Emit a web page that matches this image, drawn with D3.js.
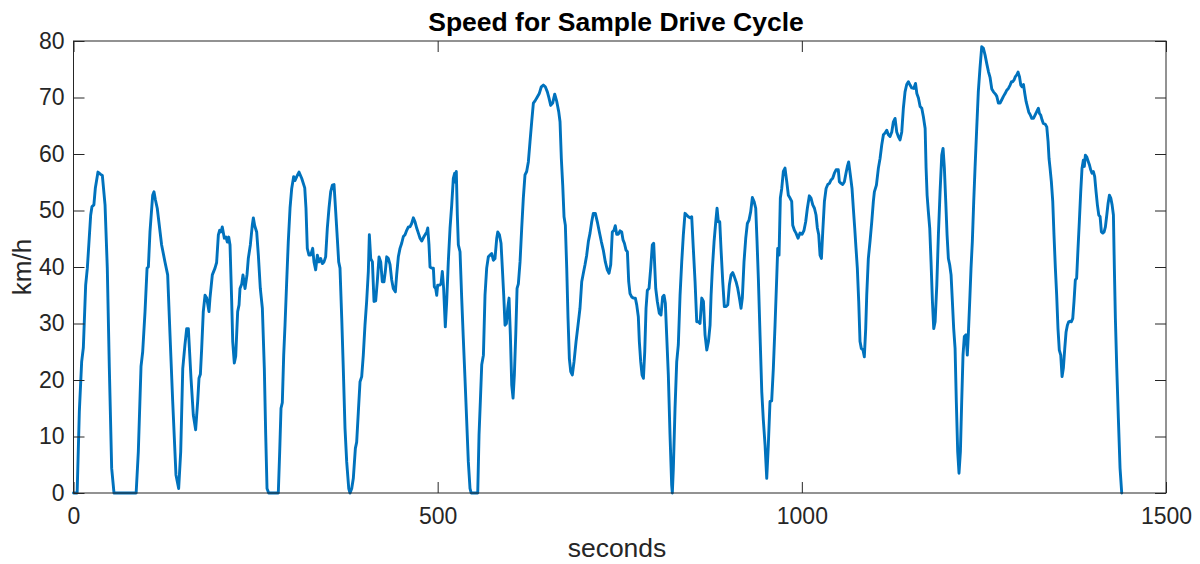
<!DOCTYPE html>
<html>
<head>
<meta charset="utf-8">
<script src="https://cdn.jsdelivr.net/npm/d3@7"></script>
<style>
  html, body { margin: 0; padding: 0; background: #fff; }
  svg { display: block; font-family: "Liberation Sans", Arial, Helvetica, sans-serif; }
</style>
</head>
<body>
<svg id="chart" width="1200" height="564"></svg>
<script>
const titleText = "Speed for Sample Drive Cycle";
const xLabelText = "seconds";
const yLabelText = "km/h";
const xTicks = [0, 500, 1000, 1500];
const yTicks = [0, 10, 20, 30, 40, 50, 60, 70, 80];

const seconds = [
0,5,8,11.2,13.5,16.7,19,23.6,25.4,28,30,33.6,37.3,39.6,43.3,46.4,49.2,52.4,55.6,86,89,92.7,95,98.2,101,102.8,105,108.7,110.5,112.3,115,121,125.6,129.3,132.5,136.2,140.7,144.4,147.2,150,153,
155.4,157.7,161.3,164.5,167.7,170.5,172.3,174.2,176,178.2,180.6,182.9,186,187.4,190.6,194.3,196.5,198.9,200.7,202.5,204.3,207.1,209.4,211.2,213.1,214.9,217.2,218.6,220.8,222.7,225.4,227.3,228.6,231,232.7,235.5,238.2,240,242.8,245.5,246.9,248.8,251.5,253.8,256.5,259.3,262,263.9,265.7,268,281.2,283.1,284.9,286.7,288.6,290.4,292.7,294.9,297.3,299.6,302.3,304.2,306.5,309.6,
313.3,317.5,319.2,321,323.3,325.6,328.4,330.2,332.5,334.8,337.1,339.4,341.6,343.9,346.2,348.5,350.8,353.1,355.4,357.7,360,362.2,364.1,365.9,368.3,370.4,372.8,375.1,377.9,379.7,382,384.2,387,388.8,391.1,393.4,395.7,397.9,400.2,402.5,404.8,406.2,408.1,410.4,412.6,414.9,417.1,419.5,421.8,424,426.3,428.1,430,432.3,434.6,436.9,439.1,441.9,443.7,446,448.3,450.6,452.9,455.2,457.5,459.8,462,464.3,466.6,468.9,471.2,473.5,475.8,478.1,481.3,
485,486.4,488.1,489.5,491.8,494.1,495.4,497.3,498.7,500,502.8,504.6,506.4,508.2,510.5,512.4,514.6,517,519.3,521.5,523.4,524.3,525.6,527,528.4,530.7,533,535.2,537.5,539.9,542.1,544.4,546,555,556.8,558.6,560.5,562.8,565,567.3,569.6,571.9,574.2,576.5,578.7,581.1,582.5,584.8,587,588.8,590.7,592.5,594.4,596.2,598,599.8,601.7,603.5,605.3,607.2,609,610.8,613.1,615.4,617.6,619.9,622.2,624.5,626.8,629.1,631.4,633.7,636.8,639.5,642.3,645.1,647.8,650.6,652.9,655.2,657.9,660.7,663.5,666.2,668,669.8,671.7,673.5,675.3,677.2,679,680.8,682.7,684.9,687.2,690,692.7,695.4,697.8,700,702.3,704.6,706.9,709.2,711.5,713.7,716.5,719.2,722,724.7,727.4,730.2,732.9,735.3,737.6,739.8,742.1,743.9,745.8,748.1,750.4,752.7,754.5,756.4,758.6,760.5,762.3,764.1,766.4,768.7,771.4,773.3,775.5,776.9,778.8,780.6,782.5,784.3,786.1,787.9,790.2,792.5,794.7,796.6,
799.4,801.6,804.3,806.6,808.9,810.8,812.6,814.4,816.7,819,821.3,822.2,823.6,825.9,828.2,830.4,832.8,835.1,837.3,839.6,841.9,844.2,846.5,848.8,851,853.4,855.7,858,860.2,862.6,864.9,867.1,869.5,871.8,874,875.4,877.2,879.5,881.8,883.6,885.4,887.3,889,891.4,893.6,896,898.3,900.5,902.8,905.1,907.3,909.7,912,914.3,916.5,918.3,920.6,923,925.2,927.5,929.8,932.1,934.4,936.7,938.5,940.3,942.6,945,947.1,949.5,951.8,954,956.3,958.6,960.9,963.2,965.5,966.9,968.7,970.5,972.4,974.6,976.9,979.3,981.5,983.8,986.1,987.5,989.8,992,994.8,997.5,1000.3,1003,1005.3,1007.6,1010.3,1012.6,1015,1017.3,1019.5,1021.3,1023.2,1025,1026.9,1028.7,1031,1033.3,1035.6,1037.9,1040.1,1042.4,1044.7,1047,1050.1,1051.5,1053.8,1056.1,1058.4,1060.6,1062.5,1064.3,1066.6,1068.9,1070.7,1072.6,1074.4,1076.2,1078.1,1079.9,1081.7,1084,1085.8,1087.7,1089.1,1091.3,1093.6,1096,1098.2,1099.6,1102.4,1105.1,1107.4,1109.7,1112,1114.3,1116.6,1118.8,1121.1,1123.5,1125.7,1128,1130.3,1132.5,1134.8,1137.2,1139.4,1141.7,1144,1146.3,1148.6,1150.9,1153.7,1156.1,1157.9,1160.1,1162.4,1164.7,1166.9,1169.3,1170.6,1172,1173.7,1175.6,1177.4,1179.3,1181.1,1183,1185.3,1187.5,1189.8,1192.1,1193.9,1195.7,1197.6,1199.4,1201.2,1203,1204.9,1206.7,1208.5,1210.4,1212.1,1214,1215.8,1217.7,1219.5,1221.3,1223.1,1225.4,1227.2,1228.6,1230.5,1232.3,1234.1,1236,1237.8,1240.1,1242.3,1244.6,1247,1249.3,1251.6,1253.9,1256.2,1258.5,1260.8,1263.1,1265.8,1267.7,1269.9,1272.2,1274.5,1276.8,1279.1,1281.4,1283.6,1286,1287.8,1289.6,1291.4,1293.2,1295.1,1296.9,1298.8,1300.6,1302.4,1304.3,1306.1,1307.9,1309.7,1311.6,1313.4,1315.7,1318,1320.2,1322.5,1324.8,1326.2,1328,1329.9,1331.6,1334,1336.3,1338.1,1339.4,1340.8,1342.6,1344.5,1346.2,1348.1,1349.9,1351.7,1353.5,1355.5,1357.3,1359.1,1361,1362.8,1364.6,1366.4,1368.2,1370.1,1372,1373.7,1375.5,1377.3,1379.2,1381,1382.9,1384.7,1386.5,1387.9,1389.3,1391.1,1392.9,1394.8,1396.6,1398.4,1400.3,1402.1,1404,1405.8,1407.7,1409.5,1411.3,1413.2,1415,1416.8,1418.7,1420.5,1422.3,1424.2,1426,1427.8,1429.1,1430.5,1432.4,1434.6,1436.9,1439.2
];

const kmh = [
0,0,14.4,23.2,25.7,36.8,39.8,49.2,50.7,51,54,56.8,56.4,56.2,51,39.8,22.1,4.4,0,0,7.3,22.4,25,32.1,39.8,40,46.2,52.7,53.3,52,50.4,43.9,40.9,38.6,28,16.2,3.2,0.8,7.3,22,26.2,
29.1,29.1,20.4,13.8,11.2,16.2,20.3,21,25.6,32.1,35,34.5,32.1,34.5,38.6,39.8,40.8,45.7,46.5,46.2,47.1,45.1,45.3,44.4,45.3,43.9,33.9,26.8,23,24.2,32.1,33.3,36.2,37,38.6,36.2,38.6,41.5,43.9,47.4,48.7,47.3,46.2,42.1,36.2,32.7,22.1,10.3,0.8,0,0,7.3,15,16,24.4,29.7,37.4,44.5,50.4,53.9,56,55.3,56,56.8,
55.7,54,50.4,43.3,42.1,42.1,43.3,40.9,39.5,42.1,40.9,41.5,40.6,40.9,41.8,46.9,50.4,53.3,54.5,54.6,49.8,45.1,40.9,39.8,30.9,22.1,11.4,5.5,0.8,0,0.8,2.6,7.9,9,14.4,19.7,20.6,24.4,29.7,33.9,39.2,45.7,41.5,40.9,33.9,34,37.4,41.8,40.9,37.4,37.4,39.2,41.8,41.5,40.4,37.7,36.2,35.6,38.6,41.8,43.3,44.2,45.4,45.7,46.5,47.1,47.1,47.7,48.7,48,46.9,46,45.1,44.6,45.4,
46.2,46.9,43.9,40,39.8,39.8,36.5,36.2,35,36.8,36.8,37,39.2,36.2,29.4,33.9,40.9,46.9,51,55.7,56.6,55,56.9,49.2,43.9,42.7,34.5,27.4,20.3,12.6,5.5,0.8,0,0,10.3,16.2,22.7,24.4,35,39.8,41.8,42.1,42.4,41.2,41.5,45.1,46.2,45.7,44.2,39.8,35,29.7,30,32.7,34.5,28,19.1,16.8,20.9,28,36.2,37,40.9,46.9,52.2,56.3,56.9,58.6,62.2,65.7,69,69.4,70.1,70.7,71.9,72.2,71.9,71,69.9,68.6,69,70.6,69.3,67.5,65.7,59.2,54.5,48.9,47.4,39.8,30.9,23.8,21.5,20.9,23.2,26.8,29.7,32.7,37.4,38.9,40.4,42.1,44.5,46,48,49.5,49.5,48,46.2,44.5,43,40.9,39.5,38.9,40.4,46.2,46.5,47.3,45.8,45.8,46.4,46.2,44.8,44.2,43,42.7,37.4,35.3,34.7,34.5,34.5,33.3,31.2,26.8,23.2,20.9,20.3,25,32.7,35.9,36.2,39.8,43.9,44.2,
36.2,33.9,31.8,31.5,34.7,35,33.6,28,20.9,10.3,1.4,0,4.4,15,23.2,26.2,35,40.9,45.7,49.5,49.2,48.9,48.7,48.9,43.3,37.4,30.3,30.3,30,34.5,33.9,28,25.3,26.8,29.7,35,39.8,44.5,48,50.4,48,48,43.3,37.4,33,33,33.3,36.8,38.6,39,38.3,37.4,36.2,34.5,32.7,34.5,40.9,45.1,47.7,48.3,49.8,52.3,51.6,50.4,44.5,38,28,17.9,13,8.5,2.6,8.5,16.2,16.3,22.1,29.7,38,43.3,42.1,52.2,53.9,56.9,57.5,55.1,52.7,52.2,51.6,47.4,46.5,46,45.1,46,45.8,46.5,48,50.4,52.6,52.2,51,50.4,49.2,46.9,45.7,42.1,41.5,46.2,51.6,53.9,54.6,54.8,55.4,55.7,56.6,57.2,57.2,55.1,54.8,54.6,55.1,56.6,57.8,58.6,56.3,53.9,50.4,46.9,43.3,39.8,33.9,26.8,25.6,25.3,24.1,29.1,35,41.5,44.5,48,51.6,53.3,54.5,57.5,59.2,61.6,63.4,63.7,64.2,63.4,63.1,63.9,65.7,66.3,63.9,63.1,62.5,63.9,68.1,71,72.3,72.8,72.2,71.7,71.6,72.5,70.7,69.9,68.4,68.1,66.6,64.5,57.5,52.7,49.8,46.9,40.9,33.9,29.1,30.3,36.8,45.7,53.3,59.8,61,57.5,51.6,45.7,41.5,40.4,38.6,33.9,29.1,25.6,16.2,7.3,3.5,7.3,16.2,24.4,27.7,28,24.4,28,33.9,39.8,44.5,51.6,57.5,64.5,71,75.2,79,78.7,77.5,76,74.6,73.5,71.5,71,70.6,70.2,69,69,69.6,70.2,70.7,71.3,71.6,72.2,72.8,72.8,73.1,73.7,74,74.5,73.7,72.2,71.9,72.3,70.7,69.3,68.4,67.4,67,66.3,66.3,66.9,67.5,68.1,67.2,66.9,66,65.4,65.3,64.8,62.2,59.2,57.5,55.1,51.6,45.7,39.8,35,29.1,25.3,24.4,20.6,22.1,25.6,28.5,29.7,30.3,30.4,30.3,30.9,33.9,37.7,38,43.3,48,53.3,57.5,58.9,57.8,59.8,59.5,58.8,58.1,57.2,56.6,56.9,56,53.3,51,49.2,48.9,46.2,46,46.2,47.1,49.2,51.3,52.7,52.2,51,49.2,39.8,30.9,22.1,13.2,4.4,0
];

const data = seconds.map((t, i) => ({ t, v: kmh[i] }));

const svg = d3.select("#chart");
const mLeft = 73.5, mRight = 1166, mTop = 41, mBottom = 493;
const axisColor = "#262626";
const tickFont = 23;

const x = d3.scaleLinear().domain([0, 1500]).range([mLeft, mRight]);
const y = d3.scaleLinear().domain([0, 80]).range([mBottom, mTop]);

// line
svg.append("path")
  .datum(data)
  .attr("fill", "none")
  .attr("stroke", "#0072BD")
  .attr("stroke-width", 2.9)
  .attr("stroke-linejoin", "round")
  .attr("stroke-linecap", "round")
  .attr("d", d3.line().x(d => x(d.t)).y(d => y(d.v)));

function styleAxis(g, showText) {
  g.select(".domain").remove();
  g.selectAll(".tick line").attr("stroke", axisColor).attr("stroke-width", 1);
  g.selectAll(".tick text")
    .attr("fill", axisColor)
    .style("font-size", tickFont + "px")
    .style("font-family", "'Liberation Sans', Arial, Helvetica, sans-serif")
    .style("display", showText ? null : "none");
}

svg.append("g")
  .attr("transform", `translate(0,${mBottom})`)
  .call(d3.axisBottom(x).tickValues(xTicks).tickSizeInner(-11).tickSizeOuter(0).tickPadding(15).tickFormat(d3.format("d")))
  .call(g => styleAxis(g, true));

svg.append("g")
  .attr("transform", `translate(0,${mTop})`)
  .call(d3.axisTop(x).tickValues(xTicks).tickSizeInner(-11).tickSizeOuter(0))
  .call(g => styleAxis(g, false));

svg.append("g")
  .attr("transform", `translate(${mLeft},0)`)
  .call(d3.axisLeft(y).tickValues(yTicks).tickSizeInner(-11).tickSizeOuter(0).tickPadding(9).tickFormat(d3.format("d")))
  .call(g => styleAxis(g, true));

svg.append("g")
  .attr("transform", `translate(${mRight},0)`)
  .call(d3.axisRight(y).tickValues(yTicks).tickSizeInner(-11).tickSizeOuter(0))
  .call(g => styleAxis(g, false));

// box
svg.append("rect")
  .attr("x", mLeft).attr("y", mTop)
  .attr("width", mRight - mLeft).attr("height", mBottom - mTop)
  .attr("fill", "none").attr("stroke", axisColor).attr("stroke-width", 1);

// title
svg.append("text")
  .attr("x", 616).attr("y", 31)
  .attr("text-anchor", "middle")
  .attr("fill", "#000")
  .style("font-size", "26.5px").style("font-weight", "bold")
  .text(titleText);

// x label
svg.append("text")
  .attr("x", 617).attr("y", 557)
  .attr("text-anchor", "middle")
  .attr("fill", axisColor)
  .style("font-size", "26.5px")
  .text(xLabelText);

// y label
svg.append("text")
  .attr("transform", `translate(31,${(mTop + mBottom) / 2}) rotate(-90)`)
  .attr("text-anchor", "middle")
  .attr("fill", axisColor)
  .style("font-size", "26px")
  .text(yLabelText);
</script>
</body>
</html>
